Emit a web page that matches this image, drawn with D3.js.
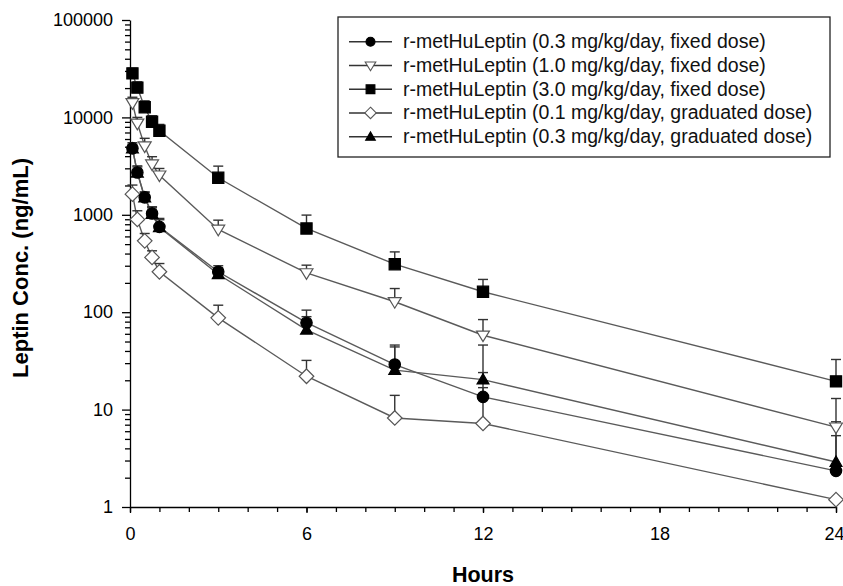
<!DOCTYPE html>
<html><head><meta charset="utf-8">
<script src="https://cdn.jsdelivr.net/npm/d3@7"></script>
<style>body{margin:0;background:#fff}svg{display:block;font-family:"Liberation Sans",Arial,sans-serif}</style>
</head><body><svg id="c" width="843" height="586"></svg>
<script>
const hours = [0.083, 0.25, 0.5, 0.75, 1, 3, 6, 9, 12, 24];
const seriesNames = [
  "r-metHuLeptin (0.3 mg/kg/day, fixed dose)",
  "r-metHuLeptin (1.0 mg/kg/day, fixed dose)",
  "r-metHuLeptin (3.0 mg/kg/day, fixed dose)",
  "r-metHuLeptin (0.1 mg/kg/day, graduated dose)",
  "r-metHuLeptin (0.3 mg/kg/day, graduated dose)"
];
const fixed03 = [4810, 2720, 1510, 1030, 752, 260, 78, 29, 13.5, 2.35];
const fixed03Top = [5500, 3180, 1720, 1210, 918, 300, 105, 46, 24, 5.4];
const fixed10 = [14100, 8690, 5070, 3310, 2550, 708, 253, 128, 58, 6.6];
const fixed10Top = [16100, 10000, 6100, 3950, 2990, 881, 304, 175, 84, 13];
const fixed30 = [28300, 20200, 12700, 9020, 7300, 2400, 724, 311, 162, 19.5];
const fixed30Top = [31900, 23200, 14800, 10400, 8470, 3160, 993, 416, 217, 32.7];
const grad01 = [1630, 896, 540, 365, 260, 87.5, 22, 8.2, 7.2, 1.19];
const grad01Top = [2020, 1100, 643, 427, 316, 118, 32, 14, 16.8, 1.19];
const grad03 = [4780, 2700, 1500, 1020, 745, 245, 66, 25.4, 20.3, 2.9];
const grad03Top = [5300, 3100, 1700, 1180, 890, 285, 90, 44, 46, 7.5];
const yTickValues = [1, 10, 100, 1000, 10000, 100000];
const yTickLabels = ["1", "10", "100", "1000", "10000", "100000"];
const xTickValues = [0, 6, 12, 18, 24];
const xTickLabels = ["0", "6", "12", "18", "24"];
const xLabel = "Hours";
const yLabel = "Leptin Conc. (ng/mL)";

const series = [
  {name: seriesNames[0], v: fixed03, top: fixed03Top, sym: "circle", fill: "#000"},
  {name: seriesNames[1], v: fixed10, top: fixed10Top, sym: "tridown", fill: "#fff"},
  {name: seriesNames[2], v: fixed30, top: fixed30Top, sym: "square", fill: "#000"},
  {name: seriesNames[3], v: grad01, top: grad01Top, sym: "diamond", fill: "#fff"},
  {name: seriesNames[4], v: grad03, top: grad03Top, sym: "triup", fill: "#000"}
];

const svg = d3.select("#c");
const L = 130, R = 836, T = 20, B = 507;
const x = d3.scaleLinear().domain([0, 24]).range([L, R]);
const y = d3.scaleLog().domain([1, 100000]).range([B, T]);

// marker geometry by half-size r
function symPath(s, r) {
  if (s === "circle") return d3.symbol().type(d3.symbolCircle).size(Math.PI * r * r)();
  if (s === "square") return d3.symbol().type(d3.symbolSquare).size(4 * r * r)();
  if (s === "diamond") return `M0,${-r * 1.3}L${r * 1.3},0L0,${r * 1.3}L${-r * 1.3},0Z`;
  if (s === "tridown") return `M${-r * 1.15},${-r * 0.75}L${r * 1.15},${-r * 0.75}L0,${r * 1.15}Z`;
  if (s === "triup") return `M${-r * 1.1},${r * 0.8}L${r * 1.1},${r * 0.8}L0,${-r * 1.1}Z`;
}
const plotR = {circle: 5.7, square: 5.6, diamond: 5.6, tridown: 5.6, triup: 5.4};
const legR = {circle: 4.5, square: 4.4, diamond: 4.4, tridown: 4.6, triup: 4.4};

// axes
const yAxisMinor = [];
for (let e = 0; e < 5; e++) for (let m = 2; m <= 9; m++) yAxisMinor.push(m * Math.pow(10, e));
const gy = svg.append("g").attr("transform", `translate(${L},0)`);
gy.call(d3.axisLeft(y).tickValues(yAxisMinor).tickSize(5).tickFormat(""));
gy.call(g => g.select(".domain").remove());
const gy2 = svg.append("g").attr("transform", `translate(${L},0)`)
  .call(d3.axisLeft(y).tickValues(yTickValues).tickSize(8).tickPadding(9)
    .tickFormat((d, i) => yTickLabels[i]).tickSizeOuter(0));
gy2.selectAll("text").attr("font-size", 18).attr("fill", "#000").attr("font-family", "Liberation Sans, Arial, sans-serif");

const gx = svg.append("g").attr("transform", `translate(0,${B})`);
gx.call(d3.axisBottom(x).tickValues(d3.range(0, 25)).tickSize(5).tickFormat(""));
gx.call(g => g.select(".domain").remove());
const gx2 = svg.append("g").attr("transform", `translate(0,${B})`)
  .call(d3.axisBottom(x).tickValues(xTickValues).tickSize(6).tickPadding(14)
    .tickFormat((d, i) => xTickLabels[i]).tickSizeOuter(0));
gx2.selectAll("text").attr("font-size", 18).attr("fill", "#000").attr("font-family", "Liberation Sans, Arial, sans-serif");
gx2.selectAll(".tick text").filter(d => d === 24).attr("text-anchor", "end").attr("dx", 8);
svg.selectAll(".tick line, .domain").attr("stroke", "#000").attr("stroke-width", 1.3);

// axis titles
svg.append("text").attr("x", 483).attr("y", 582).attr("text-anchor", "middle")
  .attr("font-size", 21.5).attr("font-weight", "bold").text(xLabel);
svg.append("text").attr("transform", "translate(28,268) rotate(-90)").attr("text-anchor", "middle")
  .attr("font-size", 22).attr("font-weight", "bold").text(yLabel);

const drawOrder = [4, 3, 2, 1, 0];
const line = d3.line().x((d, i) => x(hours[i])).y(d => y(d));

// lines
drawOrder.forEach(k => {
  const s = series[k];
  svg.append("path").datum(s.v).attr("d", line).attr("fill", "none")
    .attr("stroke", "#5a5a5a").attr("stroke-width", 1.4);
});
// error bars
drawOrder.forEach(k => {
  const s = series[k];
  const g = svg.append("g").attr("stroke", "#333").attr("stroke-width", 1.4);
  s.v.forEach((v, i) => {
    const t = s.top[i];
    if (t == null || t <= v) return;
    const px = x(hours[i]);
    g.append("line").attr("x1", px).attr("x2", px).attr("y1", y(v)).attr("y2", y(t));
    g.append("line").attr("x1", px - 5).attr("x2", px + 5).attr("y1", y(t)).attr("y2", y(t));
  });
});
// markers
drawOrder.forEach(k => {
  const s = series[k];
  svg.append("g").selectAll("path").data(s.v).join("path")
    .attr("d", symPath(s.sym, plotR[s.sym]))
    .attr("transform", (d, i) => `translate(${x(hours[i])},${y(d)})`)
    .attr("fill", s.fill).attr("stroke", s.fill === "#000" ? "#000" : "#555").attr("stroke-width", 1.2);
});

// legend
const lg = svg.append("g");
lg.append("rect").attr("x", 338).attr("y", 17).attr("width", 492).attr("height", 140)
  .attr("fill", "#fff").attr("stroke", "#222").attr("stroke-width", 1.3);
series.forEach((s, i) => {
  const ry = 41.7 + i * 23.75;
  lg.append("line").attr("x1", 349).attr("x2", 392).attr("y1", ry).attr("y2", ry)
    .attr("stroke", "#333").attr("stroke-width", 1.4);
  lg.append("path").attr("d", symPath(s.sym, legR[s.sym]))
    .attr("transform", `translate(370.5,${ry})`)
    .attr("fill", s.fill).attr("stroke", s.fill === "#000" ? "#000" : "#555").attr("stroke-width", 1.1);
  lg.append("text").attr("x", 403).attr("y", ry + 6.5).attr("font-size", 19.5).attr("fill", "#111").text(s.name);
});
</script></body></html>
